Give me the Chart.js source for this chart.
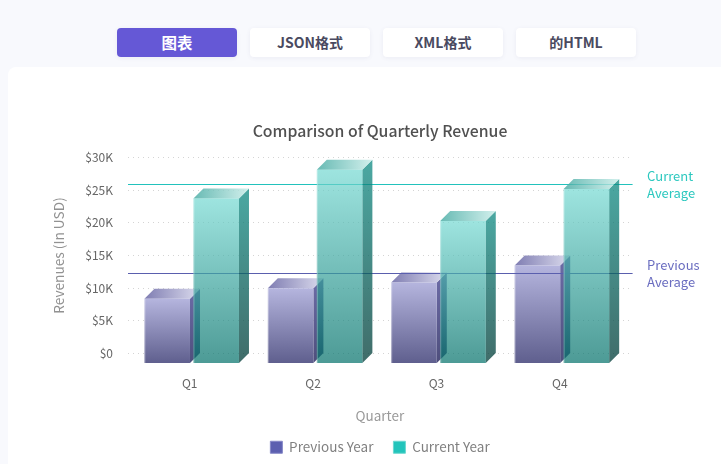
<!DOCTYPE html>
<html>
<head>
<meta charset="utf-8">
<script src="https://cdn.jsdelivr.net/npm/chart.js@4/dist/chart.umd.min.js"></script>
<style>
  html, body { margin: 0; padding: 0; width: 721px; height: 464px; overflow: hidden; background: #f8f9fd; font-family: "Noto Sans CJK SC", sans-serif; }
  .tab { position: absolute; top: 28px; width: 120px; height: 29px; line-height: 29px; text-align: center; background: #fff; color: #4a4a60; font-size: 14px; font-weight: 700; border-radius: 4px; box-shadow: 0 1px 4px rgba(90, 90, 140, 0.08); }
  .tab.active { background: #6558d6; color: #fff; font-size: 15.5px; }
  #card { position: absolute; left: 8px; top: 67px; width: 713px; height: 397px; background: #fff; border-top-left-radius: 8px; }
  #revenueChart { position: absolute; left: 47px; top: 67px; }
</style>
</head>
<body>
<div class="tab active" style="left:117px">图表</div>
<div class="tab" style="left:250px">JSON格式</div>
<div class="tab" style="left:383px">XML格式</div>
<div class="tab" style="left:516px">的HTML</div>
<div id="card"></div>
<canvas id="revenueChart" width="666" height="397"></canvas>
<script>
// Chart data.
var quarters = ['Q1', 'Q2', 'Q3', 'Q4'];
var previousYear = [9900, 11500, 12400, 15000];
var currentYear = [25250, 29650, 21800, 26700];
var yTickLabels = ['$0', '$5K', '$10K', '$15K', '$20K', '$25K', '$30K'];
var currentAverage = 25900;
var previousAverage = 12300;

// Depth of the fake 3D bars.
var depth = 10;
var groupShift = 2;

// Previous year bars are solid, current year bars let the lines and the bar behind show through.
var prevFaces = {
    front: ['#b5b5de', '#5f5f8e'], side: ['#6d6ca8', '#4e4e7c'],
    top: ['#7f7db2', '#dcdcee'], edge: 'rgba(255,255,255,0.35)',
    frontAlpha: 1, sideAlpha: 1, topAlpha: 1
};
var currFaces = {
    front: ['#73d8d1', '#006f68'], side: ['#0e8b83', '#003b37'],
    top: ['#42a9a1', '#c7ece8'], edge: 'rgba(255,255,255,0.3)',
    frontAlpha: 0.7, sideAlpha: 0.75, topAlpha: 0.8
};

function linear(ctx, x0, y0, x1, y1, colors) {
    var g = ctx.createLinearGradient(x0, y0, x1, y1);
    g.addColorStop(0, colors[0]);
    g.addColorStop(1, colors[1]);
    return g;
}

function poly(ctx, pts, fill, alpha) {
    ctx.beginPath();
    ctx.moveTo(pts[0][0], pts[0][1]);
    for (var i = 1; i < pts.length; i++) ctx.lineTo(pts[i][0], pts[i][1]);
    ctx.closePath();
    ctx.globalAlpha = alpha;
    ctx.fillStyle = fill;
    ctx.fill();
    ctx.globalAlpha = 1;
}

// Draws one bar from its element: the element sits on the back plane, the front face is moved by depth.
function drawBar(ctx, bar, faces) {
    var left = bar.x - bar.width / 2 - depth + groupShift;
    var right = left + bar.width;
    var top = bar.y + depth;
    var bottom = bar.base + depth;

    ctx.save();
    poly(ctx, [[right, top], [right + depth, top - depth], [right + depth, bottom - depth], [right, bottom]],
        linear(ctx, 0, top - depth, 0, bottom, faces.side), faces.sideAlpha);
    poly(ctx, [[left, top], [left + depth, top - depth], [right + depth, top - depth], [right, top]],
        linear(ctx, left, 0, right + depth, 0, faces.top), faces.topAlpha);
    poly(ctx, [[left, top], [right, top], [right, bottom], [left, bottom]],
        linear(ctx, 0, top, 0, bottom, faces.front), faces.frontAlpha);
    ctx.fillStyle = faces.edge;
    ctx.fillRect(left, top, 1, bottom - top);
    ctx.restore();
}

function drawAverage(chart, value, color, lines, textColor) {
    var ctx = chart.ctx;
    var y = chart.scales.y.getPixelForValue(value);
    ctx.save();
    ctx.strokeStyle = color;
    ctx.lineWidth = 1;
    ctx.beginPath();
    ctx.moveTo(chart.chartArea.left - depth, Math.round(y) + 0.5);
    ctx.lineTo(chart.chartArea.right + 1, Math.round(y) + 0.5);
    ctx.stroke();
    ctx.fillStyle = textColor;
    ctx.font = '13px "Noto Sans CJK SC"';
    ctx.textAlign = 'left';
    ctx.textBaseline = 'middle';
    ctx.fillText(lines[0], chart.chartArea.right + 15.5, y - 8.5);
    ctx.fillText(lines[1], chart.chartArea.right + 15.5, y + 8.5);
    ctx.restore();
}

var bars3d = {
    id: 'bars3d',
    beforeDatasetDraw: function () { return false; },
    afterDatasetsDraw: function (chart) {
        var ctx = chart.ctx;
        chart.getDatasetMeta(0).data.forEach(function (bar) { drawBar(ctx, bar, prevFaces); });
        drawAverage(chart, currentAverage, '#22c2bc', ['Current', 'Average'], '#2cc8bf');
        drawAverage(chart, previousAverage, '#5a5fae', ['Previous', 'Average'], '#6a6dc0');
        chart.getDatasetMeta(1).data.forEach(function (bar) { drawBar(ctx, bar, currFaces); });

        // Axis name is centred under the whole 3D plot, not under the scale.
        ctx.save();
        ctx.fillStyle = '#999';
        ctx.font = '13.5px "Noto Sans CJK SC"';
        ctx.textAlign = 'center';
        ctx.textBaseline = 'middle';
        ctx.fillText('Quarter', (chart.chartArea.left - depth + chart.chartArea.right) / 2, 349);
        ctx.restore();
    }
};

Chart.defaults.font.family = '"Noto Sans CJK SC"';

var chart = new Chart(document.getElementById('revenueChart').getContext('2d'), {
    type: 'bar',
    data: {
        labels: quarters,
        datasets: [{
            label: 'Previous Year',
            data: previousYear,
            backgroundColor: '#5c5fb0',
            borderColor: '#8688c8',
            borderWidth: 1
        }, {
            label: 'Current Year',
            data: currentYear,
            backgroundColor: '#22c4bb',
            borderColor: '#6bd8d0',
            borderWidth: 1
        }]
    },
    options: {
        responsive: false,
        animation: false,
        categoryPercentage: 0.794,
        barPercentage: 0.93,
        plugins: {
            tooltip: { enabled: false },
            title: {
                display: true,
                text: 'Comparison of Quarterly Revenue',
                color: '#505050',
                font: { size: 15.8, weight: '500' },
                padding: { top: 54.5, bottom: 17 }
            },
            legend: {
                position: 'bottom',
                labels: {
                    boxWidth: 12,
                    boxHeight: 12,
                    color: '#808080',
                    font: { size: 13.5 },
                    padding: 20
                }
            }
        },
        scales: {
            x: {
                border: { display: false },
                grid: { display: false },
                ticks: { color: '#666', font: { size: 12 }, padding: 15, labelOffset: -depth, maxRotation: 0 },
                afterFit: function (scale) { scale.height = 67; }
            },
            y: {
                min: 0,
                max: 30000,
                border: { display: false, dash: [1, 4] },
                grid: {
                    color: '#d4d4d4',
                    tickColor: '#d4d4d4',
                    tickBorderDash: [1, 4],
                    tickLength: depth
                },
                ticks: {
                    stepSize: 5000,
                    color: '#666',
                    font: { size: 12 },
                    padding: 15,
                    callback: function (value, index) { return yTickLabels[index]; }
                },
                title: { display: true, text: 'Revenues (In USD)', color: '#929292', font: { size: 13.7 } },
                afterFit: function (scale) { scale.width = 91; }
            },
            // Empty axis only holds the room for the average labels on the right.
            labelRoom: {
                position: 'right',
                border: { display: false },
                grid: { display: false },
                ticks: { display: false },
                afterFit: function (scale) { scale.width = 81.4; }
            }
        }
    },
    plugins: [bars3d]
});
</script>
</body>
</html>
